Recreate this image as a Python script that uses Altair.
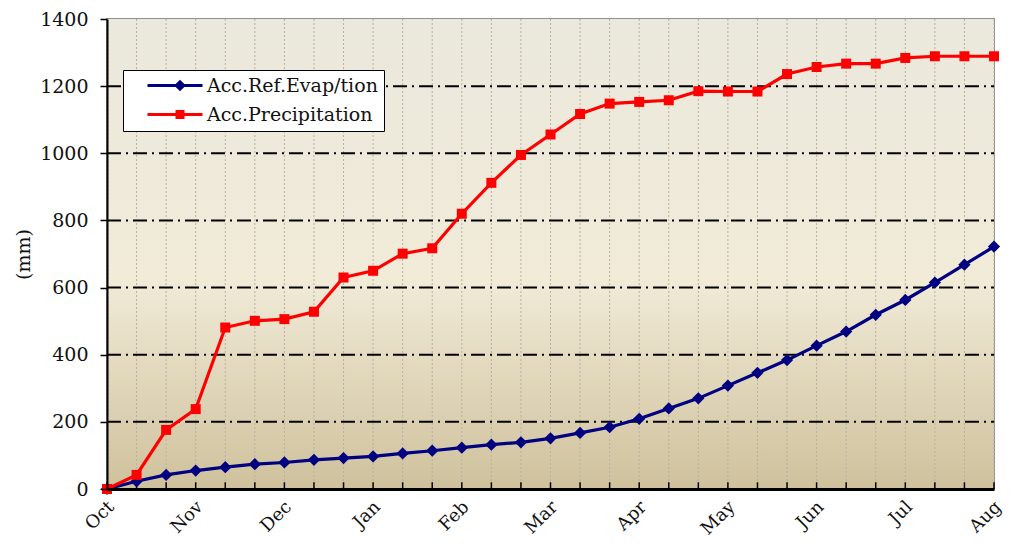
import altair as alt
import pandas as pd

# ---- data ----
months = ["Oct", "Nov", "Dec", "Jan", "Feb", "Mar", "Apr", "May", "Jun", "Jul", "Aug"]
evap = [0, 23, 42, 55, 65, 74, 79, 87, 92, 97, 106, 114, 123, 132, 139, 151, 167, 184,
        209, 240, 270, 308, 346, 384, 427, 469, 519, 563, 615, 668, 722]
precip = [0, 42, 176, 238, 481, 501, 506, 528, 630, 650, 701, 717, 820, 912, 995, 1056,
          1117, 1148, 1153, 1158, 1185, 1184, 1184, 1236, 1257, 1267, 1267, 1284, 1289,
          1289, 1289]
series_names = ["Acc.Ref.Evap/tion", "Acc.Precipitation"]
series_colors = ["#000080", "#ff0000"]
y_ticks = [0, 200, 400, 600, 800, 1000, 1200, 1400]
y_grid = [200, 400, 600, 800, 1000, 1200]

idx = list(range(len(evap)))
n_last = idx[-1]
y_max = y_ticks[-1]

df = pd.DataFrame({
    "i": idx + idx,
    "value": evap + precip,
    "series": [series_names[0]] * len(evap) + [series_names[1]] * len(precip),
})
df_e = pd.DataFrame({"i": idx, "value": evap})
df_p = pd.DataFrame({"i": idx, "value": precip})

W, H = 887, 470
FONT = "DejaVu Serif"

xscale = alt.Scale(domain=[0, n_last], nice=False, zero=False)
yscale = alt.Scale(domain=[0, y_max], nice=False)

months_js = "[" + ",".join("'" + m + "'" for m in months) + "]"

x_axis = alt.Axis(
    values=list(range(0, n_last + 1, 3)),
    labelExpr=months_js + "[round(datum.value/3)]",
    grid=False, ticks=False, tickSize=0,
    domainColor="black", domainWidth=3,
    labelAngle=-45, labelAlign="right", labelBaseline="middle",
    labelPadding=15, labelOffset=4, labelFont=FONT, labelFontSize=18, labelColor="#111111",
    labelOverlap=False, zindex=1,
)
y_axis = alt.Axis(
    values=y_ticks, format="d", grid=False, tickSize=7, tickColor="black", tickWidth=1.5,
    domainColor="black", domainWidth=2,
    labelPadding=12, labelFont=FONT, labelFontSize=19, labelColor="#111111",
    titleFont=FONT, titleFontSize=19, titleFontWeight="normal", titleColor="#111111",
    titleX=-84, titleY=H / 2, titleBaseline="middle", titleAlign="center", zindex=1,
)


def X(field):
    return alt.X(field, type="quantitative", scale=xscale, axis=x_axis, title=None)


def Y(field):
    return alt.Y(field, type="quantitative", scale=yscale, axis=y_axis, title="(mm)")


# background gradient
bg = alt.Chart(pd.DataFrame({"x0": [0], "x1": [n_last], "y0": [0], "y1": [y_max]})).mark_rect(
    color=alt.Gradient(
        gradient="linear",
        stops=[
            alt.GradientStop(color="#ebe8dd", offset=0),
            alt.GradientStop(color="#f1ebd8", offset=0.55),
            alt.GradientStop(color="#cfc19c", offset=1),
        ],
        x1=0, x2=0, y1=0, y2=1,
    )
).encode(x=X("x0"), x2="x1:Q", y=Y("y0"), y2="y1:Q")

grid_df = pd.DataFrame({"i": idx, "y0": [0] * len(idx), "y1": [y_max] * len(idx), "t1": [20] * len(idx)})

vgrid = alt.Chart(grid_df).mark_rule(color="#b9b19f", strokeWidth=1, strokeDash=[2, 2]).encode(
    x=X("i"), y=Y("y0"), y2="y1:Q"
)

hgrid = alt.Chart(pd.DataFrame({"v": y_grid, "x0": [0] * len(y_grid), "x1": [n_last] * len(y_grid)})).mark_rule(
    color="black", strokeWidth=2, strokeDash=[14, 5, 2, 5]
).encode(y=Y("v"), x=X("x0"), x2="x1:Q")

xticks = alt.Chart(grid_df).mark_rule(color="black", strokeWidth=1.5).encode(
    x=X("i"), y=Y("y0"), y2="t1:Q"
)

color = alt.Color("series:N", scale=alt.Scale(domain=series_names, range=series_colors), legend=None)

lines = alt.Chart(df).mark_line(strokeWidth=3.2).encode(
    x=X("i"), y=Y("value"), color=color, detail="series:N"
)

pts_e = alt.Chart(df_e).mark_point(filled=True, opacity=1, shape="diamond", size=150,
                                   color=series_colors[0]).encode(x=X("i"), y=Y("value"))
pts_p = alt.Chart(df_p).mark_point(filled=True, opacity=1, shape="square", size=100,
                                   color=series_colors[1]).encode(x=X("i"), y=Y("value"))

# legend symbols: line + (stroked, concentric => solid looking) marker as custom paths
path_diamond = "M-1,0L10,0M5.5,-0.75L6.25,0L5.5,0.75L4.75,0ZM5.5,-0.3L5.8,0L5.5,0.3L5.2,0Z"
path_square = "M-1,0L10,0M4.9,-0.6L6.1,-0.6L6.1,0.6L4.9,0.6ZM5.35,-0.15L5.65,-0.15L5.65,0.15L5.35,0.15Z"
nb = "\u00a0" * 7
leg = alt.Legend(
    orient="none", legendX=16, legendY=51, title=None,
    padding=6, symbolOffset=14, symbolSize=100, symbolStrokeWidth=3,
    labelOffset=45, labelFont=FONT, labelFontSize=19, labelColor="#111111", labelLimit=400,
    labelExpr="datum.label + '" + nb + "'",
    fillColor="white", strokeColor="black", rowPadding=9,
)
legend_layer = alt.Chart(df).mark_point(filled=False, strokeWidth=3, size=100, opacity=1).encode(
    x=X("i"), y=Y("value"),
    stroke=alt.Stroke("series:N", scale=alt.Scale(domain=series_names, range=series_colors), legend=leg),
    shape=alt.Shape("series:N", scale=alt.Scale(domain=series_names, range=[path_diamond, path_square]), legend=leg),
).transform_filter("false")

chart = alt.layer(bg, vgrid, hgrid, xticks, lines, pts_e, pts_p, legend_layer).resolve_scale(
    stroke="independent", shape="independent"
).properties(
    width=W, height=H,
    autosize=alt.AutoSizeParams(type="none"),
    padding={"left": 99, "top": 11, "right": 15, "bottom": 52},
).configure_view(stroke="#8f8f8f", strokeWidth=2)

chart.save("out.html", embed_options={"renderer": "svg", "actions": False})
